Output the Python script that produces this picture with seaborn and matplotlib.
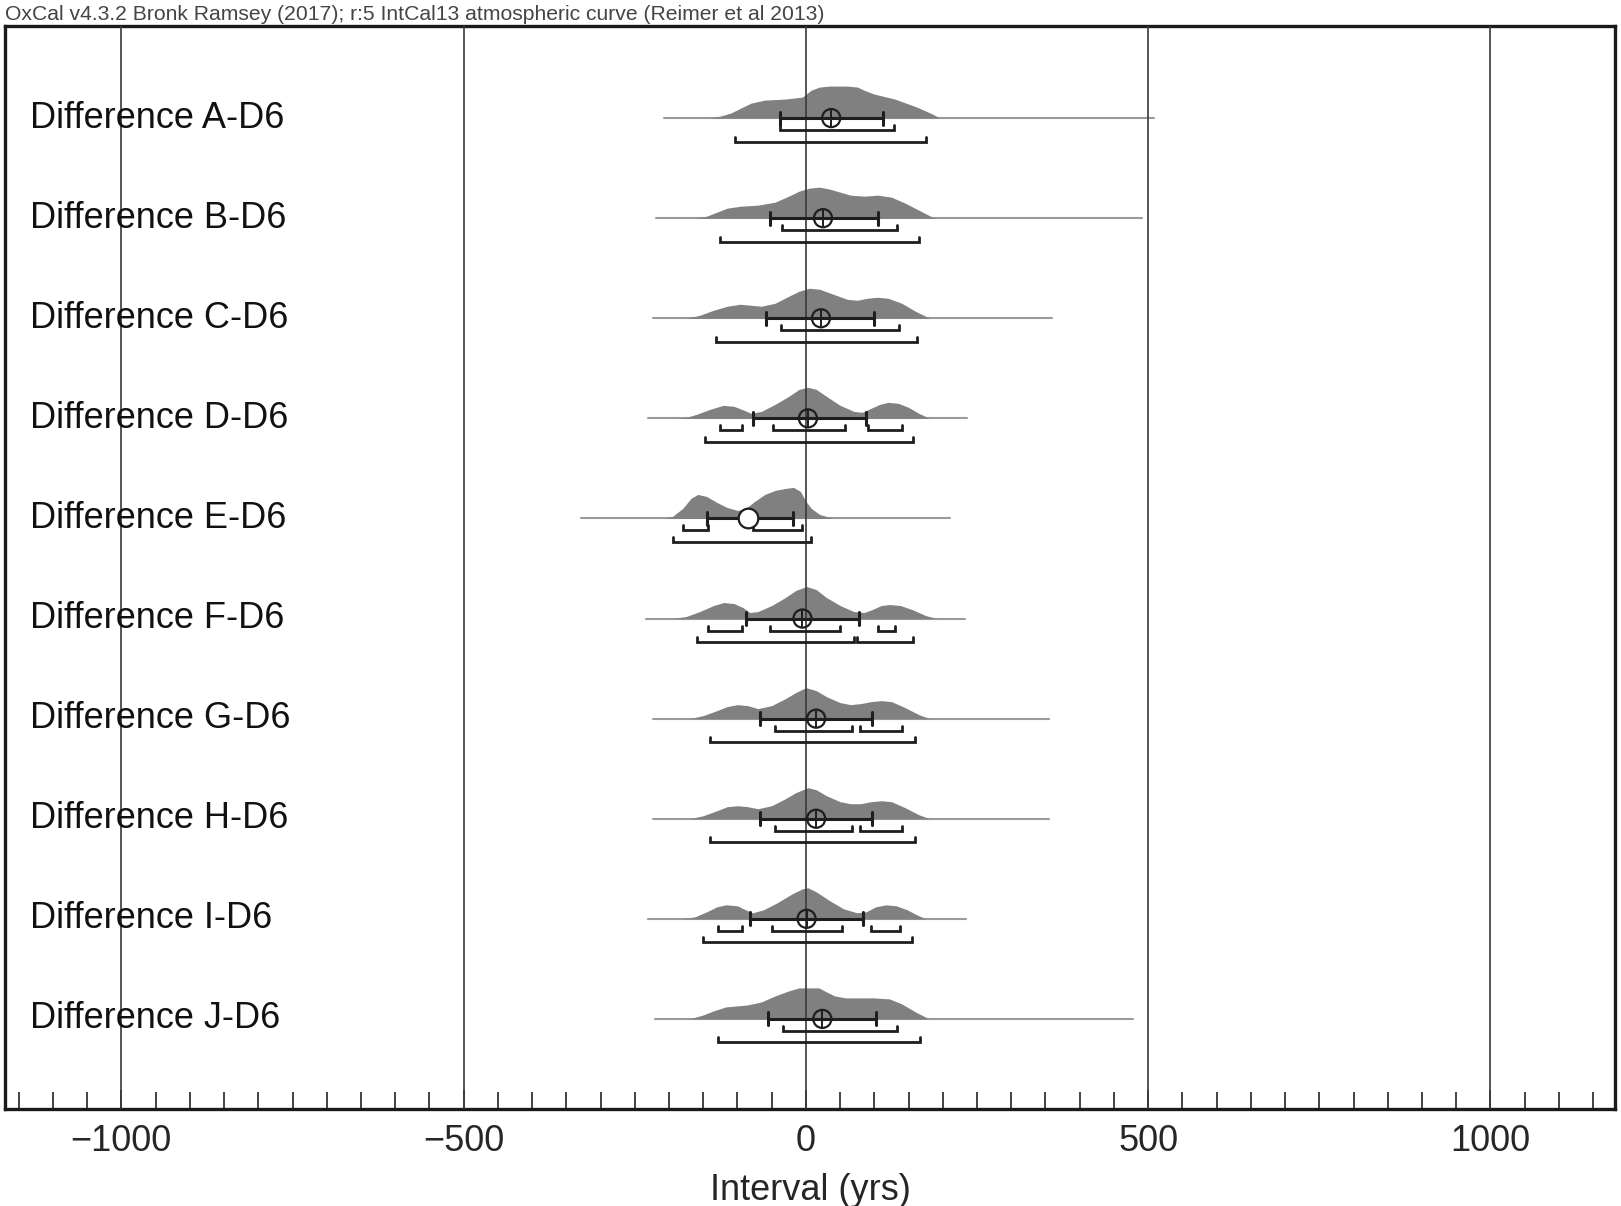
import numpy as np
import pandas as pd
import seaborn as sns
import matplotlib.pyplot as plt
from matplotlib.ticker import MultipleLocator

# ----------------------------------------------------
# data read off the OxCal multi-plot
# ----------------------------------------------------
labels = ["Difference A-D6", "Difference B-D6", "Difference C-D6", "Difference D-D6",
          "Difference E-D6", "Difference F-D6", "Difference G-D6", "Difference H-D6",
          "Difference I-D6", "Difference J-D6"]

# grey prior line extent (years)
line_start = [-208, -219, -223, -230, -329, -234, -224, -224, -231, -220]
line_end = [509, 491, 360, 235, 210, 232, 355, 355, 234, 478]

# posterior density outline: years and relative heights
dens_years = [
    [-140, -125, -110, -95, -80, -60, -30, -5, 8, 20, 35, 60, 75, 88, 100, 130, 162, 185, 196],
    [-162, -145, -130, -115, -95, -70, -45, -25, -10, 5, 20, 35, 50, 65, 85, 105, 125, 145, 165, 182, 190],
    [-174, -155, -135, -115, -96, -80, -65, -45, -25, -10, 5, 20, 40, 60, 75, 90, 105, 120, 140, 160, 181],
    [-194, -175, -160, -140, -121, -105, -90, -80, -65, -45, -25, -10, 3, 15, 30, 50, 70, 82, 95,
     108, 120, 135, 150, 165, 181],
    [-208, -195, -180, -168, -158, -145, -130, -115, -100, -88, -75, -60, -45, -30, -18, -8, 0, 8, 20, 40],
    [-195, -175, -155, -135, -120, -105, -92, -82, -70, -50, -30, -15, 1, 15, 30, 50, 70, 85, 97,
     110, 122, 138, 155, 175, 191],
    [-170, -150, -130, -115, -100, -85, -70, -50, -30, -15, 0, 15, 30, 50, 65, 80, 95, 110, 125,
     145, 165, 181],
    [-170, -150, -130, -115, -100, -85, -70, -50, -30, -15, 3, 15, 30, 50, 65, 80, 95, 110, 125,
     145, 165, 181],
    [-180, -162, -145, -130, -117, -100, -88, -78, -62, -42, -20, -5, 3, 15, 35, 55, 75, 88, 102,
     117, 132, 148, 162, 175],
    [-170, -150, -135, -117, -100, -85, -65, -45, -25, -10, 5, 19, 30, 42, 58, 80, 100, 122, 140,
     160, 180],
]
dens_heights = [
    [0, 0.02, 0.05, 0.10, 0.15, 0.18, 0.19, 0.21, 0.28, 0.31, 0.32, 0.32, 0.31, 0.27, 0.24, 0.19, 0.11,
     0.04, 0],
    [0, 0.02, 0.06, 0.10, 0.12, 0.13, 0.16, 0.22, 0.27, 0.30, 0.31, 0.29, 0.26, 0.23, 0.22, 0.23, 0.21,
     0.15, 0.08, 0.02, 0],
    [0, 0.03, 0.08, 0.12, 0.14, 0.13, 0.12, 0.15, 0.22, 0.27, 0.30, 0.29, 0.24, 0.19, 0.18, 0.20, 0.21,
     0.20, 0.15, 0.07, 0],
    [0, 0.01, 0.04, 0.09, 0.13, 0.12, 0.08, 0.05, 0.07, 0.14, 0.22, 0.29, 0.31, 0.29, 0.22, 0.13, 0.07,
     0.06, 0.10, 0.14, 0.16, 0.15, 0.11, 0.05, 0],
    [0, 0.02, 0.10, 0.20, 0.24, 0.22, 0.16, 0.11, 0.08, 0.10, 0.17, 0.24, 0.28, 0.30, 0.31, 0.27, 0.17,
     0.10, 0.04, 0],
    [0, 0.02, 0.07, 0.13, 0.16, 0.15, 0.11, 0.06, 0.07, 0.13, 0.21, 0.28, 0.32, 0.29, 0.21, 0.13, 0.07,
     0.06, 0.09, 0.13, 0.14, 0.13, 0.09, 0.03, 0],
    [0, 0.03, 0.08, 0.12, 0.14, 0.13, 0.10, 0.13, 0.20, 0.26, 0.31, 0.28, 0.22, 0.16, 0.14, 0.15, 0.17,
     0.18, 0.17, 0.11, 0.04, 0],
    [0, 0.03, 0.08, 0.12, 0.13, 0.12, 0.10, 0.13, 0.20, 0.26, 0.31, 0.29, 0.23, 0.17, 0.15, 0.15, 0.17,
     0.18, 0.17, 0.11, 0.04, 0],
    [0, 0.02, 0.07, 0.12, 0.14, 0.13, 0.09, 0.06, 0.09, 0.16, 0.25, 0.30, 0.31, 0.27, 0.18, 0.10, 0.06,
     0.07, 0.12, 0.14, 0.13, 0.09, 0.04, 0],
    [0, 0.04, 0.08, 0.12, 0.13, 0.14, 0.17, 0.23, 0.28, 0.31, 0.31, 0.31, 0.27, 0.23, 0.21, 0.21, 0.21,
     0.20, 0.15, 0.07, 0],
]

# mean and +/- 1 sigma
means = [37, 25, 22, 3, -84, -5, 15, 15, 1, 24]
sigma_lo = [-38, -53, -59, -77, -145, -88, -67, -67, -81, -56]
sigma_hi = [113, 105, 99, 88, -19, 78, 96, 96, 84, 102]

# highest posterior density ranges
hpd68 = [
    [(-38, 129)],
    [(-35, 133)],
    [(-37, 136)],
    [(-126, -94), (-48, 57), (91, 140)],
    [(-179, -143), (-77, -6)],
    [(-143, -94), (-53, 50), (106, 130)],
    [(-45, 67), (79, 141)],
    [(-45, 67), (79, 141)],
    [(-129, -94), (-49, 53), (95, 138)],
    [(-34, 133)],
]
hpd95 = [
    [(-103, 176)],
    [(-126, 165)],
    [(-132, 163)],
    [(-148, 156)],
    [(-194, 8)],
    [(-159, 70), (75, 156)],
    [(-140, 159)],
    [(-140, 159)],
    [(-151, 155)],
    [(-129, 167)],
]

x_ticks = [-1000, -500, 0, 500, 1000]

# ----------------------------------------------------
# style
# ----------------------------------------------------
sns.set_theme(style="white")
plt.rcParams["font.family"] = ["Liberation Sans", "DejaVu Sans"]

fig = plt.figure(figsize=(16.21, 12.06), dpi=100)
ax = fig.add_axes([5 / 1621, 1 - 1109 / 1206, 1610 / 1621, 1083 / 1206])

ax.set_xlim(-1170, 1182)
ax.set_ylim(9.9, -0.92)

# vertical reference lines
for xv in x_ticks:
    ax.axvline(xv, color="#3a3a3a", lw=1.2, zorder=3)

ink = "#1e1e1e"
for i in range(len(labels)):
    # prior line
    ax.plot([line_start[i], line_end[i]], [i, i], color="#9a9a9a", lw=1.5, zorder=1)
    # posterior
    ax.fill_between(dens_years[i], i, i - np.array(dens_heights[i]),
                    color="#808080", lw=0, zorder=2)
    # sigma bar
    ax.plot([sigma_lo[i], sigma_hi[i]], [i, i], color=ink, lw=2.2, zorder=4)
    for xe in (sigma_lo[i], sigma_hi[i]):
        ax.plot([xe, xe], [i - 0.065, i + 0.065], color=ink, lw=2.2, zorder=4)
    # 68.2% and 95.4% ranges
    for off, ranges in ((0.12, hpd68[i]), (0.235, hpd95[i])):
        y = i + off
        for lo, hi in ranges:
            ax.plot([lo, lo, hi, hi], [y - 0.05, y, y, y - 0.05],
                    color=ink, lw=2.0, zorder=4, solid_joinstyle="miter")
    ax.text(0.0155, i, labels[i], transform=ax.get_yaxis_transform(),
            ha="left", va="center", fontsize=26, color="#111111", zorder=5)

# mean markers
mean_df = pd.DataFrame({"mean": means, "row": range(len(labels))})
open_rows = mean_df[mean_df["row"] != 4]
sns.scatterplot(data=open_rows, x="mean", y="row", marker="o", s=170,
                facecolor="none", edgecolor=ink, linewidth=1.6, zorder=6, ax=ax)
sns.scatterplot(data=open_rows, x="mean", y="row", marker="+", s=170,
                color=ink, linewidth=1.4, zorder=6, ax=ax)
sns.scatterplot(data=mean_df[mean_df["row"] == 4], x="mean", y="row", marker="o", s=200,
                facecolor="white", edgecolor=ink, linewidth=1.6, zorder=6, ax=ax)

# axes decoration
ax.set_yticks([])
ax.set_ylabel("")
ax.set_xticks(x_ticks)
ax.set_xticklabels(["\u22121000", "\u2212500", "0", "500", "1000"])
ax.xaxis.set_minor_locator(MultipleLocator(50))
ax.tick_params(axis="x", which="both", direction="in", bottom=True, top=False,
               color="#222222", labelsize=26, pad=11)
ax.tick_params(axis="x", which="major", length=14, width=1.2)
ax.tick_params(axis="x", which="minor", length=12, width=1.2)
ax.set_xlabel("Interval (yrs)", fontsize=26, labelpad=10)

for side in ["left", "right", "top", "bottom"]:
    ax.spines[side].set_visible(True)
    ax.spines[side].set_color("#1a1a1a")
    ax.spines[side].set_linewidth(2.4)

fig.text(5 / 1621, 1 - 14 / 1206, "OxCal v4.3.2 Bronk Ramsey (2017); r:5 IntCal13 atmospheric curve (Reimer et al 2013)",
         ha="left", va="center", fontsize=15.2, color="#444444")

fig.savefig("out.png", dpi=100)
